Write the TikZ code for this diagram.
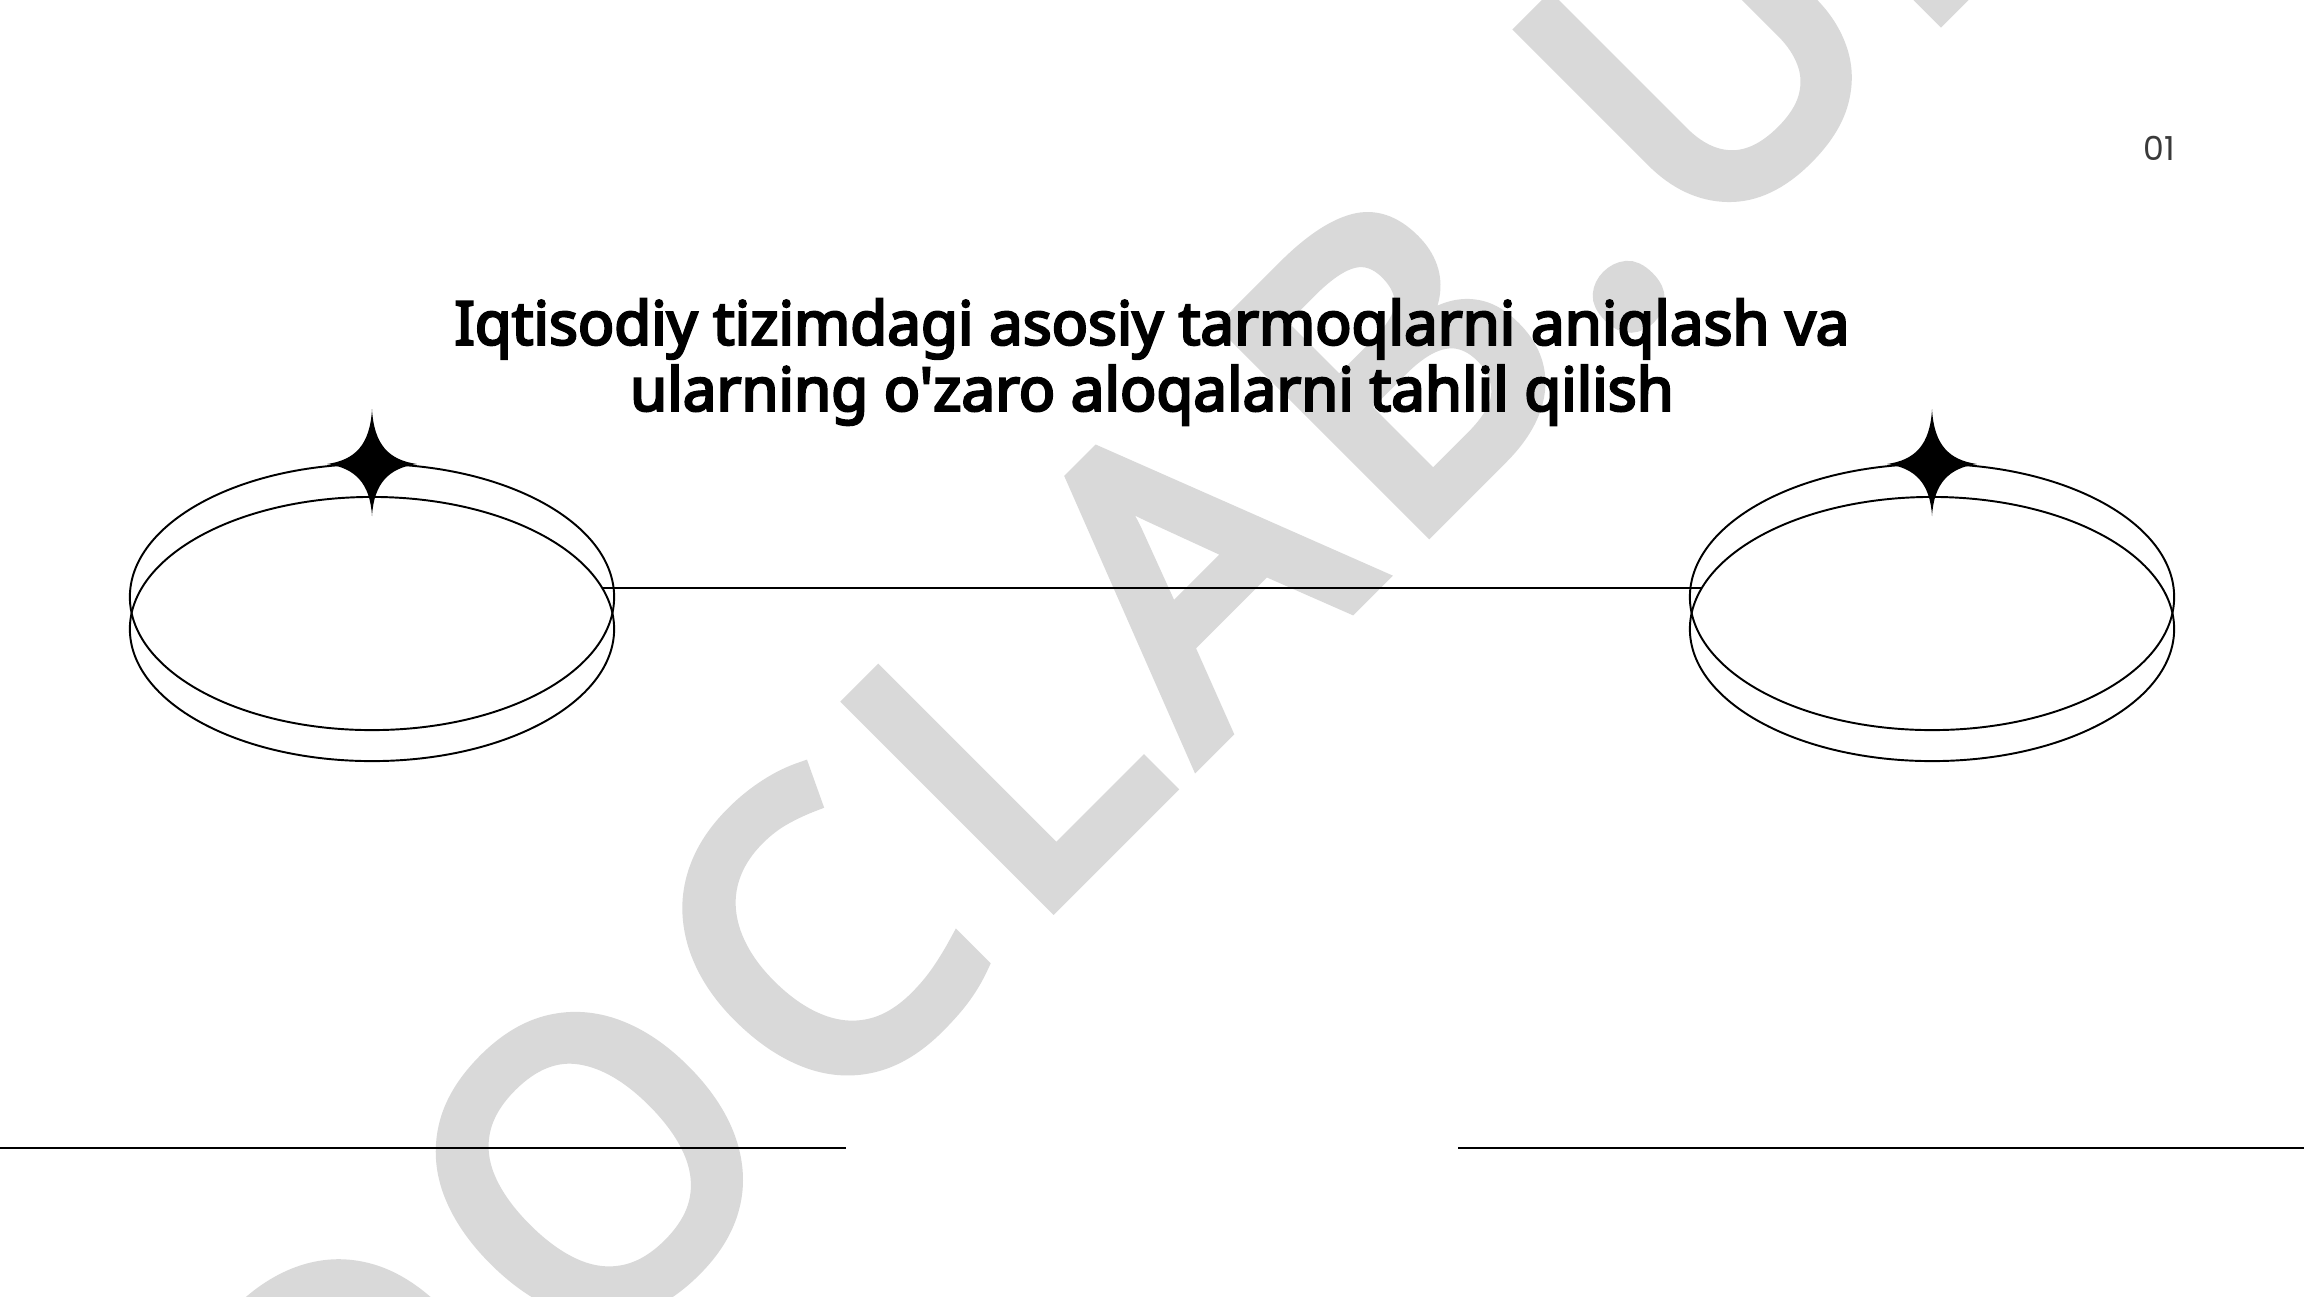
\documentclass[tikz,border=0pt]{standalone}
\usepackage{fontspec}
\setmainfont{Noto Sans}
\newfontfamily\boldsans{Noto Sans}[FakeBold=4]
\newfontfamily\wmsans{Noto Sans}[FakeBold=4.5, LetterSpace=8.7]
\newfontfamily\numfont{Poppins}
\definecolor{wm}{HTML}{D9D9D9}
\definecolor{numgray}{HTML}{3A3A3A}
\tikzset{
  thinline/.style={line width=0.55pt, black},
  ring/.style={line width=0.55pt, black},
  sparkle/.style={fill=black},
}
\newcommand\drawsparkle[2]{%
  \fill[sparkle] (#1,#2) ++(0,-55)
    .. controls ++(2,36) and ++(-28,-4) .. ++(45,55)
    .. controls ++(-28,4) and ++(2,-33) .. ++(-45,52)
    .. controls ++(-2,-33) and ++(28,4) .. ++(-45,-52)
    .. controls ++(28,-4) and ++(-2,36) .. ++(45,-55) -- cycle;}
\begin{document}
\begin{tikzpicture}[x=0.01cm,y=-0.01cm]
\path[use as bounding box, fill=white] (0,0) rectangle (2304,1296);
% watermark
\node[text=wm, rotate=45, font=\wmsans\fontsize{113}{113}\selectfont, inner sep=0pt] (wmk) at (1121,635) {DOCLAB.UZ};
% page number
\node[text=numgray, font=\numfont\fontsize{9.4}{10}\selectfont, inner sep=0pt] (num) at (2159,148) {01};
% title
\node[align=center, font=\boldsans\fontsize{17.1}{18.8}\selectfont, inner sep=0pt] (title) at (1152,362)
  {Iqtisodiy tizimdagi asosiy tarmoqlarni aniqlash va\\ ularning o{\char"0027}zaro aloqalarni tahlil qilish};
% left rings
\draw[ring] (372,597) ellipse [x radius=2.42cm, y radius=1.33cm];
\draw[ring] (372,629) ellipse [x radius=2.42cm, y radius=1.32cm];
% right rings
\draw[ring] (1932,597) ellipse [x radius=2.42cm, y radius=1.33cm];
\draw[ring] (1932,629) ellipse [x radius=2.42cm, y radius=1.32cm];
% sparkles
\drawsparkle{372}{464}
\drawsparkle{1932}{464}
% connector
\coordinate (lend) at (602,588);
\coordinate (rend) at (1702,588);
\draw[thinline] (lend) -- (rend);
% bottom lines
\coordinate (bl1) at (0,1148);
\coordinate (bl2) at (846,1148);
\coordinate (br1) at (1458,1148);
\coordinate (br2) at (2304,1148);
\draw[thinline] (bl1) -- (bl2);
\draw[thinline] (br1) -- (br2);
\end{tikzpicture}
\end{document}
